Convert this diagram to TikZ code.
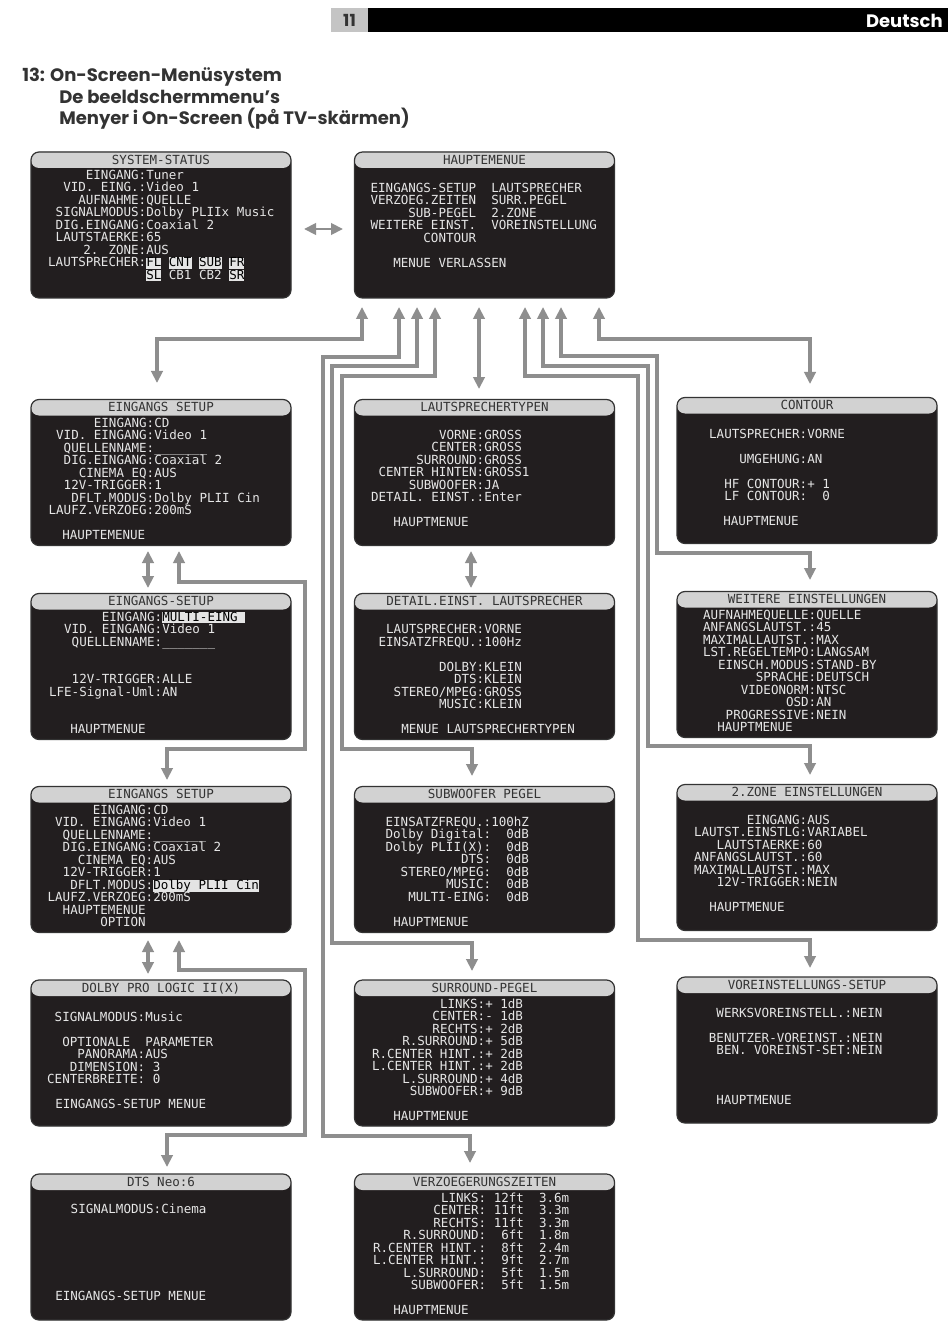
\documentclass[tikz,border=0pt]{standalone}
\usepackage{fontspec}
\usetikzlibrary{arrows.meta}
\setmainfont{Poppins}
\newfontfamily\osd{DejaVu Sans Mono}[WordSpace={1,0,0}]
\definecolor{scr}{HTML}{221E1F}
\definecolor{hdr}{HTML}{D2D2D2}
\definecolor{txtc}{HTML}{E6E6E6}
\definecolor{ttlc}{HTML}{333333}
\definecolor{cnc}{HTML}{8E8E8E}
\definecolor{hlc}{HTML}{E4E4E4}
\definecolor{pgc}{HTML}{C4C4C4}
\newdimen\pxu \pxu=0.75pt
\newcommand\kvp[2]{\smash{\llap{#1}#2}}
\newcommand\frx[2]{\smash{\hspace*{#1\pxu}#2}}
\newcommand\hlt[1]{\smash{\setlength{\fboxsep}{0pt}\colorbox{hlc}{\rule[-1.6pt]{0pt}{8.2pt}\textcolor{black}{#1}}}}
\newcommand\bxt[1]{\begin{tabular}[t]{@{}l@{}}#1\end{tabular}}
\tikzset{
  >={Triangle[length=9pt,width=8.5pt]},
  screen/.style={draw=black!80, line width=0.9pt, fill=scr, rounded corners=6pt,
    minimum width=195pt, minimum height=109.5pt, inner sep=0pt,
    path picture={\fill[hdr] ([yshift=2pt]path picture bounding box.north west) rectangle ([yshift=-12pt]path picture bounding box.north east);}},
  ttl/.style={font=\osd\fontsize{9.4}{10}\selectfont, text=ttlc, anchor=base, inner sep=0pt},
  bodytxt/.style={font=\osd\fontsize{9.4}{9.375}\selectfont, text=txtc, anchor=base west, inner sep=0pt},
  conn/.style={draw=cnc, line width=2.6pt, line join=miter, <->},
  headline/.style={font=\bfseries\fontsize{13.5}{15}\selectfont, text=ttlc, anchor=base west, inner sep=0pt}
}
\begin{document}
\begin{tikzpicture}[x=0.75pt,y=-0.75pt]
\useasboundingbox (0,0) rectangle (950,1333);
\fill[white] (0,0) rectangle (950,1333);
% page header
\fill[pgc] (331,8) rectangle (368,32);
\fill[black] (368,8) rectangle (948,32);
\node[font=\bfseries\fontsize{12.5}{14}\selectfont, text=ttlc, inner sep=0pt] (pg) at (349.5,20.5) {11};
\node[font=\bfseries\fontsize{13.5}{15}\selectfont, text=white, anchor=east, inner sep=0pt] (lang) at (943,20.5) {Deutsch};
% headline
\node[headline] (h1) at (22,82) {13: On-Screen-Menüsystem};
\node[headline] (h2) at (59,104) {De beeldschermmenu’s};
\node[headline] (h3) at (59,125) {Menyer i On-Screen (på TV-skärmen)};

% ---------- screens ----------
\node[screen] (ss) at (161,225) {};
\node[ttl] (ss-t) at (161,164.3) {SYSTEM-STATUS};
\node[bodytxt] (ss-b) at (146,179.3) {\bxt{%
\kvp{EINGANG:}{Tuner}\\
\kvp{VID. EING.:}{Video 1}\\
\kvp{AUFNAHME:}{QUELLE}\\
\kvp{SIGNALMODUS:}{Dolby PLIIx Music}\\
\kvp{DIG.EINGANG:}{Coaxial 2}\\
\kvp{LAUTSTAERKE:}{65}\\
\kvp{2. ZONE:}{AUS}\\
\kvp{LAUTSPRECHER:}{\hlt{FL} \hlt{CNT} \hlt{SUB} \hlt{FR}}\\
\kvp{}{\hlt{SL} CB1 CB2 \hlt{SR}}}};

\node[screen] (hm) at (484.5,225) {};
\node[ttl] (hm-t) at (484.5,164.3) {HAUPTEMENUE};
\node[bodytxt] (hm-b) at (476,192.3) {\bxt{%
\kvp{EINGANGS-SETUP}{~~LAUTSPRECHER}\\
\kvp{VERZOEG.ZEITEN}{~~SURR.PEGEL}\\
\kvp{SUB-PEGEL}{~~2.ZONE}\\
\kvp{WEITERE EINST.}{~~VOREINSTELLUNG}\\
\kvp{CONTOUR}{}\\
\\
\frx{-83}{MENUE VERLASSEN}}};

\node[screen] (es1) at (161,472.5) {};
\node[ttl] (es1-t) at (161,411.3) {EINGANGS SETUP};
\node[bodytxt] (es1-b) at (154,427.3) {\bxt{%
\kvp{EINGANG:}{CD}\\
\kvp{VID. EINGANG:}{Video 1}\\
\kvp{QUELLENNAME:}{\_\_\_\_\_\_\_}\\
\kvp{DIG.EINGANG:}{Coaxial 2}\\
\kvp{CINEMA EQ:}{AUS}\\
\kvp{12V-TRIGGER:}{1}\\
\kvp{DFLT.MODUS:}{Dolby PLII Cin}\\
\kvp{LAUFZ.VERZOEG:}{200mS}\\
\\
\frx{-92}{HAUPTEMENUE}}};

\node[screen] (es2) at (161,666.5) {};
\node[ttl] (es2-t) at (161,605.3) {EINGANGS-SETUP};
\node[bodytxt] (es2-b) at (162,621.3) {\bxt{%
\kvp{EINGANG:}{\hlt{MULTI-EING~}}\\
\kvp{VID. EINGANG:}{Video 1}\\
\kvp{QUELLENNAME:}{\_\_\_\_\_\_\_}\\
\\
\\
\kvp{12V-TRIGGER:}{ALLE}\\
\kvp{LFE-Signal-Uml:}{AN}\\
\\
\\
\frx{-92}{HAUPTMENUE}}};

\node[screen] (es3) at (161,859.5) {};
\node[ttl] (es3-t) at (161,798.3) {EINGANGS SETUP};
\node[bodytxt] (es3-b) at (153,814.3) {\bxt{%
\kvp{EINGANG:}{CD}\\
\kvp{VID. EINGANG:}{Video 1}\\
\kvp{QUELLENNAME:}{\_\_\_\_\_\_\_}\\
\kvp{DIG.EINGANG:}{Coaxial 2}\\
\kvp{CINEMA EQ:}{AUS}\\
\kvp{12V-TRIGGER:}{1}\\
\kvp{DFLT.MODUS:}{\hlt{Dolby PLII Cin}}\\
\kvp{LAUFZ.VERZOEG:}{200mS}\\
\kvp{HAUPTEMENUE~}{}\\
\kvp{OPTION~}{}}};

\node[screen] (dpl) at (161,1053) {};
\node[ttl] (dpl-t) at (161,992.3) {DOLBY PRO LOGIC II(X)};
\node[bodytxt] (dpl-b) at (145,1021.3) {\bxt{%
\kvp{SIGNALMODUS:}{Music}\\
\\
\frx{-83}{OPTIONALE~~PARAMETER}\\
\kvp{PANORAMA:}{AUS}\\
\kvp{DIMENSION:}{~3}\\
\kvp{CENTERBREITE:}{~0}\\
\\
\frx{-90}{EINGANGS-SETUP MENUE}}};

\node[screen] (dts) at (161,1247) {};
\node[ttl] (dts-t) at (161,1186.3) {DTS Neo:6};
\node[bodytxt] (dts-b) at (161,1213.3) {\bxt{%
\kvp{SIGNALMODUS:}{Cinema}\\
\\
\\
\\
\\
\\
\\
\frx{-106}{EINGANGS-SETUP MENUE}}};

\node[screen] (lt) at (484.5,472.5) {};
\node[ttl] (lt-t) at (484.5,411.3) {LAUTSPRECHERTYPEN};
\node[bodytxt] (lt-b) at (484,439.3) {\bxt{%
\kvp{VORNE:}{GROSS}\\
\kvp{CENTER:}{GROSS}\\
\kvp{SURROUND:}{GROSS}\\
\kvp{CENTER HINTEN:}{GROSS1}\\
\kvp{SUBWOOFER:}{JA}\\
\kvp{DETAIL. EINST.:}{Enter}\\
\\
\frx{-91}{HAUPTMENUE}}};

\node[screen] (de) at (484.5,666.5) {};
\node[ttl] (de-t) at (484.5,605.3) {DETAIL.EINST. LAUTSPRECHER};
\node[bodytxt] (de-b) at (484,633.8) {\bxt{%
\kvp{LAUTSPRECHER:}{VORNE}\\
\kvp{EINSATZFREQU.:}{100Hz}\\
\\
\kvp{DOLBY:}{KLEIN}\\
\kvp{DTS:}{KLEIN}\\
\kvp{STEREO/MPEG:}{GROSS}\\
\kvp{MUSIC:}{KLEIN}\\
\\
\frx{-83}{MENUE LAUTSPRECHERTYPEN}}};

\node[screen] (sw) at (484.5,859.5) {};
\node[ttl] (sw-t) at (484.5,798.3) {SUBWOOFER PEGEL};
\node[bodytxt] (sw-b) at (491,826.3) {\bxt{%
\kvp{EINSATZFREQU.:}{100hZ}\\
\kvp{Dolby Digital:}{~~0dB}\\
\kvp{Dolby PLII(X):}{~~0dB}\\
\kvp{DTS:}{~~0dB}\\
\kvp{STEREO/MPEG:}{~~0dB}\\
\kvp{MUSIC:}{~~0dB}\\
\kvp{MULTI-EING:}{~~0dB}\\
\\
\frx{-98}{HAUPTMENUE}}};

\node[screen] (sp) at (484.5,1053) {};
\node[ttl] (sp-t) at (484.5,992.3) {SURROUND-PEGEL};
\node[bodytxt] (sp-b) at (485,1008.3) {\bxt{%
\kvp{LINKS:}{+ 1dB}\\
\kvp{CENTER:}{- 1dB}\\
\kvp{RECHTS:}{+ 2dB}\\
\kvp{R.SURROUND:}{+ 5dB}\\
\kvp{R.CENTER HINT.:}{+ 2dB}\\
\kvp{L.CENTER HINT.:}{+ 2dB}\\
\kvp{L.SURROUND:}{+ 4dB}\\
\kvp{SUBWOOFER:}{+ 9dB}\\
\\
\frx{-92}{HAUPTMENUE}}};

\node[screen] (vz) at (484.5,1247) {};
\node[ttl] (vz-t) at (484.5,1186.3) {VERZOEGERUNGSZEITEN};
\node[bodytxt] (vz-b) at (486,1202.3) {\bxt{%
\kvp{LINKS:}{~12ft~~3.6m}\\
\kvp{CENTER:}{~11ft~~3.3m}\\
\kvp{RECHTS:}{~11ft~~3.3m}\\
\kvp{R.SURROUND:}{~~6ft~~1.8m}\\
\kvp{R.CENTER HINT.:}{~~8ft~~2.4m}\\
\kvp{L.CENTER HINT.:}{~~9ft~~2.7m}\\
\kvp{L.SURROUND:}{~~5ft~~1.5m}\\
\kvp{SUBWOOFER:}{~~5ft~~1.5m}\\
\\
\frx{-93}{HAUPTMENUE}}};

\node[screen] (ct) at (807,470.5) {};
\node[ttl] (ct-t) at (807,409.3) {CONTOUR};
\node[bodytxt] (ct-b) at (807,438.3) {\bxt{%
\kvp{LAUTSPRECHER:}{VORNE}\\
\\
\kvp{UMGEHUNG:}{AN}\\
\\
\kvp{HF CONTOUR:}{+ 1}\\
\kvp{LF CONTOUR:}{~~0}\\
\\
\frx{-84}{HAUPTMENUE}}};

\node[screen] (we) at (807,664.5) {};
\node[ttl] (we-t) at (807,603.3) {WEITERE EINSTELLUNGEN};
\node[bodytxt] (we-b) at (816,619.3) {\bxt{%
\kvp{AUFNAHMEQUELLE:}{QUELLE}\\
\kvp{ANFANGSLAUTST.:}{45}\\
\kvp{MAXIMALLAUTST.:}{MAX}\\
\kvp{LST.REGELTEMPO:}{LANGSAM}\\
\kvp{EINSCH.MODUS:}{STAND-BY}\\
\kvp{SPRACHE:}{DEUTSCH}\\
\kvp{VIDEONORM:}{NTSC}\\
\kvp{OSD:}{AN}\\
\kvp{PROGRESSIVE:}{NEIN}\\
\frx{-99}{HAUPTMENUE}}};

\node[screen] (zn) at (807,857.5) {};
\node[ttl] (zn-t) at (807,796.3) {2.ZONE EINSTELLUNGEN};
\node[bodytxt] (zn-b) at (807,824.3) {\bxt{%
\kvp{EINGANG:}{AUS}\\
\kvp{LAUTST.EINSTLG:}{VARIABEL}\\
\kvp{LAUTSTAERKE:}{60}\\
\kvp{ANFANGSLAUTST.:}{60}\\
\kvp{MAXIMALLAUTST.:}{MAX}\\
\kvp{12V-TRIGGER:}{NEIN}\\
\\
\frx{-98}{HAUPTMENUE}}};

\node[screen] (vs) at (807,1050) {};
\node[ttl] (vs-t) at (807,989.3) {VOREINSTELLUNGS-SETUP};
\node[bodytxt] (vs-b) at (852,1017.3) {\bxt{%
\kvp{WERKSVOREINSTELL.:}{NEIN}\\
\\
\kvp{BENUTZER-VOREINST.:}{NEIN}\\
\kvp{BEN. VOREINST-SET:}{NEIN}\\
\\
\\
\\
\frx{-136}{HAUPTMENUE}}};

% ---------- connectors ----------
\coordinate (c0a) at (304,229); \coordinate (c0b) at (343,229);
\draw[conn, line width=2.2pt] (c0a) -- (c0b);
\coordinate (u1) at (362,307); \coordinate (d1) at (157,383);
\draw[conn] (u1) -- (362,339) -| (d1);
\coordinate (u2) at (399,307); \coordinate (d2) at (470,1163);
\draw[conn] (u2) -- (399,357) -| (323,1136) -| (d2);
\coordinate (u3) at (417,307); \coordinate (d3) at (472,971);
\draw[conn] (u3) -- (417,366) -| (332,943) -| (d3);
\coordinate (u4) at (435,307); \coordinate (d4) at (472,776);
\draw[conn] (u4) -- (435,376) -| (342,749) -| (d4);
\coordinate (u5) at (479,307); \coordinate (d5) at (479,389);
\draw[conn] (u5) -- (d5);
\coordinate (u6) at (525,307); \coordinate (d6) at (810,968);
\draw[conn] (u6) -- (525,376) -| (638,940) -| (d6);
\coordinate (u7) at (543,307); \coordinate (d7) at (810,775);
\draw[conn] (u7) -- (543,366) -| (648,746) -| (d7);
\coordinate (u8) at (561,307); \coordinate (d8) at (810,580);
\draw[conn] (u8) -- (561,356) -| (657,553) -| (d8);
\coordinate (u9) at (599,307); \coordinate (d9) at (810,384);
\draw[conn] (u9) -- (599,339) -| (d9);
\coordinate (u10) at (148,551); \coordinate (d10) at (148,588);
\draw[conn] (u10) -- (d10);
\coordinate (u11) at (179,551); \coordinate (d11) at (167,780);
\draw[conn] (u11) -- (179,582) -| (305,749) -| (d11);
\coordinate (u12) at (148,940); \coordinate (d12) at (148,974);
\draw[conn] (u12) -- (d12);
\coordinate (u13) at (179,940); \coordinate (d13) at (167,1167);
\draw[conn] (u13) -- (179,970) -| (305,1135) -| (d13);
\coordinate (u14) at (471,551); \coordinate (d14) at (471,588);
\draw[conn] (u14) -- (d14);
\end{tikzpicture}
\end{document}
